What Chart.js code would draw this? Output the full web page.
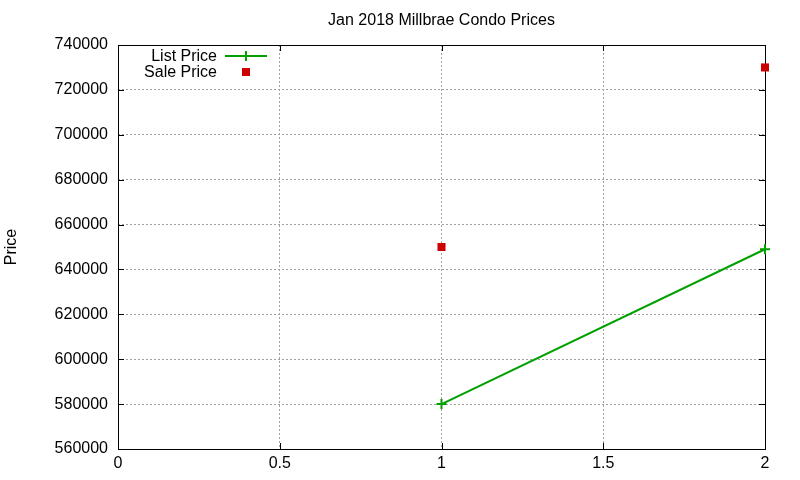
<!DOCTYPE html>
<html>
<head>
<meta charset="utf-8">
<script src="https://cdn.jsdelivr.net/npm/chart.js@4"></script>
<style>
  html, body { margin: 0; padding: 0; background: #fff; }
  #wrap { width: 800px; height: 480px; }
</style>
</head>
<body>
<div id="wrap"><canvas id="myChart" width="800" height="480"></canvas></div>
<script>
const titleText = 'Jan 2018 Millbrae Condo Prices';
const yTitle = 'Price';
const xTicks = [0, 0.5, 1, 1.5, 2];
const yTicks = [560000, 580000, 600000, 620000, 640000, 660000, 680000, 700000, 720000, 740000];
const listX = [1, 2];
const listPrice = [580000, 649000];
const saleX = [1, 2];
const salePrice = [650000, 730000];

const FONT = '16px "Liberation Sans", Arial, sans-serif';

// gnuplot style frame: border, inward ticks on all sides, title and key
const gnuFrame = {
    id: 'gnuFrame',
    beforeDatasetsDraw(chart) {
        const ctx = chart.ctx;
        const a = chart.chartArea;
        const xs = chart.scales.x, ys = chart.scales.y;
        ctx.save();
        ctx.strokeStyle = '#000';
        ctx.lineWidth = 1;
        ctx.beginPath();
        xTicks.forEach(v => {
            const px = Math.round(xs.getPixelForValue(v)) + 0.5;
            ctx.moveTo(px, a.bottom); ctx.lineTo(px, a.bottom - 6);
            ctx.moveTo(px, a.top); ctx.lineTo(px, a.top + 6);
        });
        yTicks.forEach(v => {
            const py = Math.round(ys.getPixelForValue(v)) + 0.5;
            ctx.moveTo(a.left, py); ctx.lineTo(a.left + 6, py);
            ctx.moveTo(a.right, py); ctx.lineTo(a.right - 6, py);
        });
        ctx.stroke();
        ctx.strokeRect(Math.round(a.left) + 0.5, Math.round(a.top) + 0.5,
            Math.round(a.right - a.left), Math.round(a.bottom - a.top));
        ctx.restore();
    },
    afterDraw(chart) {
        const ctx = chart.ctx;
        const a = chart.chartArea;
        ctx.save();
        ctx.font = FONT;
        ctx.fillStyle = '#000';
        ctx.textAlign = 'center';
        ctx.textBaseline = 'middle';
        ctx.fillText(titleText, (a.left + a.right) / 2, 21);

        // key
        const rows = [56, 72];
        chart.data.datasets.forEach((ds, i) => {
            const y = rows[i];
            ctx.textAlign = 'right';
            ctx.fillStyle = '#000';
            ctx.fillText(ds.label, 217, y + 1);
            if (ds.showLine !== false) {
                ctx.strokeStyle = ds.borderColor;
                ctx.lineWidth = 2;
                ctx.beginPath();
                ctx.moveTo(225, y); ctx.lineTo(267, y);
                ctx.moveTo(246, y - 5); ctx.lineTo(246, y + 5);
                ctx.stroke();
            } else {
                ctx.fillStyle = ds.backgroundColor;
                ctx.fillRect(242, y - 4, 8, 8);
            }
        });
        ctx.restore();
    }
};

const ctx = document.getElementById('myChart').getContext('2d');
const myChart = new Chart(ctx, {
    type: 'scatter',
    data: {
        datasets: [{
            label: 'List Price',
            data: listX.map((x, i) => ({ x: x, y: listPrice[i] })),
            showLine: true,
            borderColor: '#00a000',
            backgroundColor: '#00a000',
            borderWidth: 2,
            pointStyle: 'cross',
            pointRadius: 5,
            pointBorderWidth: 2,
            clip: false
        }, {
            label: 'Sale Price',
            data: saleX.map((x, i) => ({ x: x, y: salePrice[i] })),
            showLine: false,
            borderColor: '#cc0000',
            backgroundColor: '#cc0000',
            pointStyle: 'rect',
            pointRadius: 5.7,
            pointBorderWidth: 0,
            clip: false
        }]
    },
    options: {
        responsive: false,
        animation: false,
        devicePixelRatio: 1,
        layout: { padding: { top: 45, right: 35, left: 0, bottom: 0 } },
        plugins: {
            legend: { display: false },
            title: { display: false },
            tooltip: { enabled: false }
        },
        scales: {
            x: {
                type: 'linear',
                min: 0,
                max: 2,
                afterFit: s => { s.height = 31; },
                afterBuildTicks: s => { s.ticks = xTicks.map(v => ({ value: v })); },
                ticks: {
                    color: '#000',
                    font: { family: '"Liberation Sans", Arial, sans-serif', size: 16 },
                    padding: 5,
                    maxRotation: 0,
                    callback: v => String(v)
                },
                grid: { color: '#a0a0a0', drawTicks: false, tickLength: 0 },
                border: { display: false, dash: [2, 2] }
            },
            y: {
                type: 'linear',
                min: 560000,
                max: 740000,
                afterFit: s => { s.width = 118; },
                afterBuildTicks: s => { s.ticks = yTicks.map(v => ({ value: v })); },
                ticks: {
                    color: '#000',
                    font: { family: '"Liberation Sans", Arial, sans-serif', size: 16 },
                    padding: 10,
                    callback: v => String(v)
                },
                grid: { color: '#a0a0a0', drawTicks: false, tickLength: 0 },
                border: { display: false, dash: [2, 2] },
                title: {
                    display: true,
                    text: yTitle,
                    color: '#000',
                    font: { family: '"Liberation Sans", Arial, sans-serif', size: 16 },
                    padding: { top: 2, bottom: 0 }
                }
            }
        }
    },
    plugins: [gnuFrame]
});
</script>
</body>
</html>
